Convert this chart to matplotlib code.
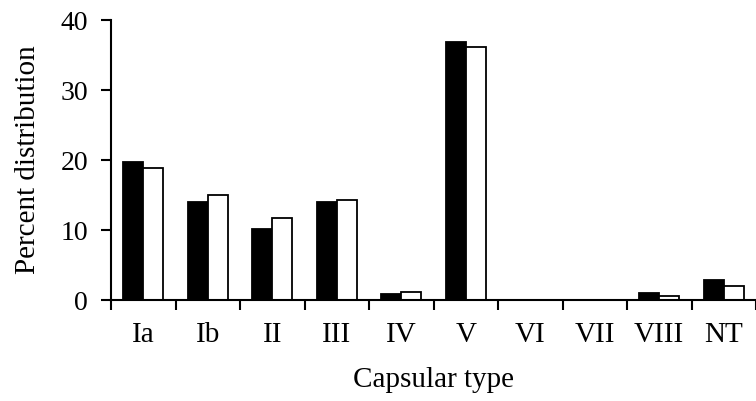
import numpy as np
import matplotlib.pyplot as plt

categories = ["Ia", "Ib", "II", "III", "IV", "V", "VI", "VII", "VIII", "NT"]
black_vals = [19.7, 14.0, 10.1, 14.0, 0.9, 36.8, 0.0, 0.0, 0.95, 2.8]
white_vals = [18.8, 15.0, 11.7, 14.3, 1.2, 36.1, 0.0, 0.0, 0.55, 1.95]

plt.rcParams['font.family'] = ['Liberation Serif', 'DejaVu Serif']

fig = plt.figure(figsize=(7.56, 4.01), dpi=100)
ax = fig.add_axes([111 / 756, 1 - 300 / 401, 1 - 111 / 756, 280 / 401])

x = np.arange(len(categories))
w = 0.31
ax.bar(x - w / 2, black_vals, width=w, color="black", edgecolor="black", linewidth=1.3)
ax.bar(x + w / 2, white_vals, width=w, color="white", edgecolor="black", linewidth=1.3)

ax.set_xlim(-0.5, (756 - 111) / 65 - 0.5)
ax.set_ylim(0, 40)
ax.set_yticks([0, 10, 20, 30, 40])

# boundaries get the tick marks, centers get the labels
ax.set_xticks(np.arange(len(categories) + 1) - 0.5)
ax.set_xticklabels([])
ax.set_xticks(x, minor=True)
ax.set_xticklabels(categories, minor=True)
ax.tick_params(axis="x", which="major", direction="out", length=7.5, width=1.5)
ax.tick_params(axis="x", which="minor", length=0, pad=15.5, labelsize=21)
ax.tick_params(axis="y", direction="out", length=7.5, width=1.5, labelsize=20, pad=9)

for s in ["top", "right"]:
    ax.spines[s].set_visible(False)
for s in ["left", "bottom"]:
    ax.spines[s].set_linewidth(1.5)

ax.set_xlabel("Capsular type", fontsize=21, labelpad=14)
ax.set_ylabel("Percent distribution", fontsize=21, labelpad=14)

fig.savefig("out.png", dpi=100)
